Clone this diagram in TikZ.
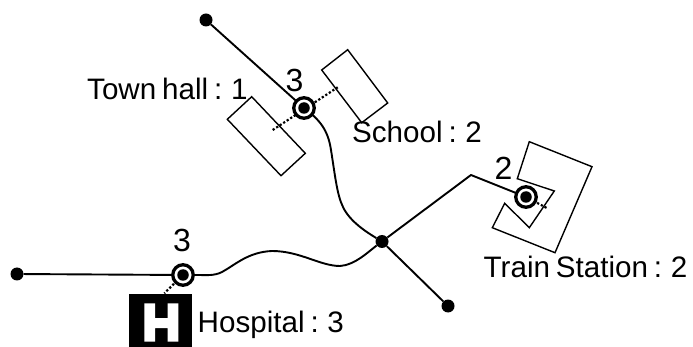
\documentclass[tikz,border=0pt]{standalone}
\usepackage{fontspec}
\setmainfont{Liberation Sans}
\newfontfamily\labelfamily[WordSpace=0.72]{Liberation Sans}
\begin{document}
\begin{tikzpicture}[x=1pt,y=-1pt,
  route/.style={line width=1.9pt,line join=round},
  footprint/.style={line width=1.4pt,line join=miter},
  link/.style={line width=2.2pt,dotted},
  lab/.style={inner sep=0pt,anchor=base west,font=\labelfamily\fontsize{29.6}{32}\selectfont},
  num/.style={inner sep=0pt,anchor=base,font=\fontsize{32}{34}\selectfont},
  dotnode/.style={circle,fill=black,inner sep=0pt,minimum size=13pt},
  stopdot/.style={circle,fill=black,inner sep=0pt,minimum size=11.5pt},
  ring/.style={circle,draw=black,fill=white,line width=3.3pt,inner sep=0pt,minimum size=20.5pt}]
\useasboundingbox (0,0) rectangle (693,347);
\coordinate (thEnd) at (272.7,130);
\coordinate (scEnd) at (337.7,87.3);
\coordinate (tsEnd) at (547.3,208.3);
\coordinate (hoEnd) at (164.3,293.3);
\coordinate (bend) at (471,175);
\node[dotnode] (a) at (206,20) {};
\node[dotnode] (j) at (382,241.5) {};
\node[dotnode] (e) at (448,306) {};
\node[dotnode] (l) at (17,274) {};
\coordinate (s1) at (304,108);
\coordinate (s2) at (526,197);
\coordinate (s3) at (183,275);
% footprints
\draw[footprint] (347.7,49.7) -- (321.7,70) -- (361.7,122.7) -- (387.7,103) -- cycle;
\draw[footprint] (251.7,96.7) -- (227.3,119.3) -- (281,175.7) -- (305.3,153.3) -- cycle;
\draw[footprint] (529.3,141.7) -- (592,166.7) -- (555,252.7) -- (492.3,227.7) -- (504.7,203.3) -- (529.3,227.7) -- (554.3,191) -- (517.3,178.7) -- cycle;
\fill[black] (129.3,294) rectangle (191.7,347);
\fill[white] (144.3,303.3) -- (155,303.3) -- (155,318) -- (167.5,318) -- (167.5,303.3) -- (178.3,303.3) -- (178.3,341.7) -- (167.5,341.7) -- (167.5,328) -- (155,328) -- (155,341.7) -- (144.3,341.7) -- cycle;
% links
\draw[link] (thEnd) -- (scEnd);
\draw[link] (s2) -- (tsEnd);
\draw[link] (s3) -- (hoEnd);
% routes
\draw[route] (a) -- (s1) .. controls (320,120) and (328,130) .. (331,150) .. controls (335,175) and (337,195) .. (343,207) .. controls (350,222) and (368,233) .. (j) -- (e);
\draw[route] (l) -- (s3) -- (197,275) .. controls (207,275) and (214,276) .. (222,272) .. controls (235,265) and (248,252) .. (272,251) .. controls (300,251) and (320,266) .. (340,266) .. controls (355,265) and (368,252) .. (j);
\draw[route] (j) -- (bend) -- (s2);
% stops
\node[ring] at (s1) {}; \node[stopdot] (n1) at (s1) {};
\node[ring] at (s2) {}; \node[stopdot] (n2) at (s2) {};
\node[ring] at (s3) {}; \node[stopdot] (n3) at (s3) {};
% labels
\node[lab] (t1) at (87,100) {Town hall : 1};
\node[lab] (t2) at (352,143) {School : 2};
\node[lab] (t3) at (483.5,277) {Train Station : 2};
\node[lab] (t4) at (197.5,332) {Hospital : 3};
\node[num] (d1) at (294.5,91.5) {3};
\node[num] (d2) at (503.5,180) {2};
\node[num] (d3) at (182,252) {3};
\end{tikzpicture}
\end{document}
